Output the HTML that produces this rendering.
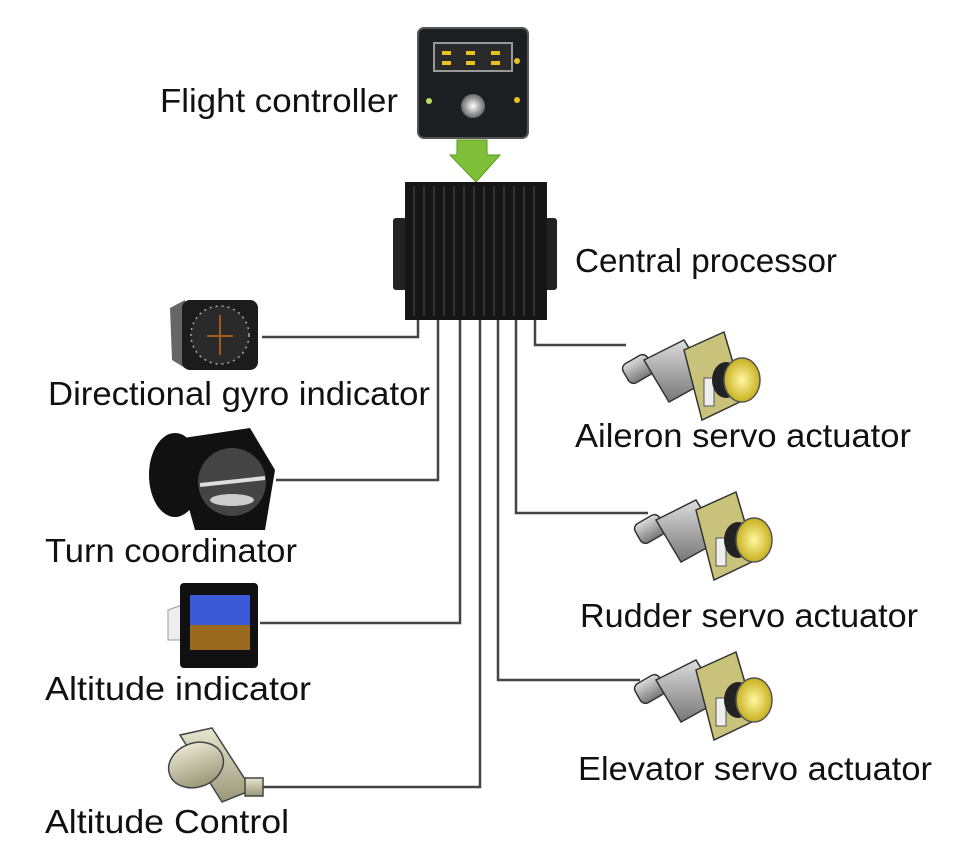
<!DOCTYPE html>
<html><head><meta charset="utf-8"><style>
html,body{margin:0;padding:0;background:#fff;}
svg{display:block;}
text{font-family:"Liberation Sans",sans-serif;font-size:33px;fill:#111;}
</style></head><body>
<svg width="964" height="850" viewBox="0 0 964 850">
<defs>
<linearGradient id="gray" x1="0" y1="0" x2="0" y2="1"><stop offset="0" stop-color="#ddd"/><stop offset="1" stop-color="#777"/></linearGradient>
<linearGradient id="beige" x1="0" y1="0" x2="0" y2="1"><stop offset="0" stop-color="#e8e6d0"/><stop offset="1" stop-color="#9a9678"/></linearGradient>
<radialGradient id="knob"><stop offset="0" stop-color="#fff"/><stop offset="1" stop-color="#666"/></radialGradient>
<radialGradient id="yel"><stop offset="0" stop-color="#fff8a0"/><stop offset="1" stop-color="#c8b020"/></radialGradient>
<g id="servo">
<rect x="0" y="18" width="28" height="22" rx="6" fill="url(#gray)" stroke="#333" stroke-width="1.5" transform="rotate(-30 14 29)"/>
<path d="M20 20 L60 0 L85 40 L45 62 Z" fill="url(#gray)" stroke="#333" stroke-width="1.5"/>
<path d="M60 10 L100 -8 L120 60 L78 80 Z" fill="#c9c27a" stroke="#333" stroke-width="1.5"/>
<rect x="80" y="38" width="10" height="28" fill="#eee" stroke="#555"/>
<ellipse cx="102" cy="40" rx="14" ry="18" fill="#222"/>
<ellipse cx="118" cy="40" rx="18" ry="22" fill="url(#yel)" stroke="#555" stroke-width="1.5"/>
</g>
</defs>

<g stroke="#444" stroke-width="2.5" fill="none">
<polyline points="418,318 418,337 262,337"/>
<polyline points="438,318 438,480 276,480"/>
<polyline points="460,318 460,623 260,623"/>
<polyline points="480,318 480,787 262,787"/>
<polyline points="498,318 498,680 640,680"/>
<polyline points="516,318 516,513 648,513"/>
<polyline points="535,318 535,345 626,345"/>
</g>

<g>
<rect x="418" y="28" width="110" height="110" rx="6" fill="#1b1f22" stroke="#555" stroke-width="2"/>
<rect x="434" y="43" width="78" height="28" fill="#2a2a2a" stroke="#999" stroke-width="2"/>
<g fill="#e8c020"><rect x="442" y="51" width="9" height="4"/><rect x="466" y="51" width="9" height="4"/><rect x="491" y="51" width="9" height="4"/><rect x="442" y="61" width="9" height="4"/><rect x="466" y="61" width="9" height="4"/><rect x="491" y="61" width="9" height="4"/></g>
<circle cx="473" cy="106" r="12" fill="url(#knob)"/>
<circle cx="517" cy="61" r="3" fill="#e8c020"/><circle cx="517" cy="100" r="3" fill="#e8c020"/><circle cx="429" cy="101" r="3" fill="#b8e060"/>
</g>
<polygon points="457,140 487,140 487,155 500,155 476,182 450,155 457,155" fill="#7fbf3a" stroke="#5a9a20"/>

<g>
<rect x="393" y="218" width="14" height="72" rx="3" fill="#222"/>
<rect x="543" y="218" width="14" height="72" rx="3" fill="#222"/>
<rect x="405" y="182" width="142" height="138" fill="#161616"/>
<g stroke="#333" stroke-width="2">
<line x1="414" y1="186" x2="414" y2="316"/><line x1="424" y1="186" x2="424" y2="316"/><line x1="434" y1="186" x2="434" y2="316"/><line x1="444" y1="186" x2="444" y2="316"/><line x1="454" y1="186" x2="454" y2="316"/><line x1="464" y1="186" x2="464" y2="316"/><line x1="474" y1="186" x2="474" y2="316"/><line x1="484" y1="186" x2="484" y2="316"/><line x1="494" y1="186" x2="494" y2="316"/><line x1="504" y1="186" x2="504" y2="316"/><line x1="514" y1="186" x2="514" y2="316"/><line x1="524" y1="186" x2="524" y2="316"/><line x1="534" y1="186" x2="534" y2="316"/>
</g>
</g>

<g>
<path d="M170 308 L185 300 L185 368 L172 360 Z" fill="#666"/>
<rect x="182" y="300" width="76" height="70" rx="8" fill="#1c1c1c"/>
<circle cx="220" cy="335" r="29" fill="#2a2a2a" stroke="#aaa" stroke-width="1.5" stroke-dasharray="2 4"/>
<path d="M220 315 L220 355 M207 336 L233 336" stroke="#a05a20" stroke-width="2"/>
</g>
<g>
<ellipse cx="175" cy="475" rx="26" ry="42" fill="#111"/>
<path d="M170 440 L250 428 L275 470 L265 530 L195 530 Z" fill="#111"/>
<circle cx="232" cy="482" r="34" fill="#444"/>
<path d="M200 485 L265 478" stroke="#ddd" stroke-width="4"/>
<ellipse cx="232" cy="500" rx="22" ry="6" fill="#ccc"/>
</g>
<g>
<path d="M168 610 L182 605 L182 640 L168 640 Z" fill="#eee" stroke="#999"/>
<rect x="180" y="583" width="78" height="85" rx="4" fill="#111"/>
<rect x="190" y="595" width="60" height="30" fill="#3a5ad8"/>
<rect x="190" y="625" width="60" height="25" fill="#9a6a20"/>
</g>
<g>
<path d="M180 735 L212 728 L252 790 L222 802 Z" fill="url(#beige)" stroke="#444" stroke-width="1.5"/>
<ellipse cx="196" cy="765" rx="28" ry="22" fill="url(#beige)" stroke="#444" stroke-width="1.5" transform="rotate(-20 196 765)"/>
<rect x="245" y="778" width="18" height="18" fill="url(#beige)" stroke="#444" stroke-width="1.5"/>
</g>

<use href="#servo" x="624" y="340"/>
<use href="#servo" x="636" y="500"/>
<use href="#servo" x="636" y="660"/>

<text x="160" y="112" textLength="238" lengthAdjust="spacingAndGlyphs">Flight controller</text>
<text x="575" y="272" textLength="262" lengthAdjust="spacingAndGlyphs">Central processor</text>
<text x="48" y="405" textLength="382" lengthAdjust="spacingAndGlyphs">Directional gyro indicator</text>
<text x="575" y="447" textLength="336" lengthAdjust="spacingAndGlyphs">Aileron servo actuator</text>
<text x="45" y="562" textLength="252" lengthAdjust="spacingAndGlyphs">Turn coordinator</text>
<text x="580" y="627" textLength="338" lengthAdjust="spacingAndGlyphs">Rudder servo actuator</text>
<text x="45" y="700" textLength="266" lengthAdjust="spacingAndGlyphs">Altitude indicator</text>
<text x="578" y="780" textLength="354" lengthAdjust="spacingAndGlyphs">Elevator servo actuator</text>
<text x="45" y="833" textLength="244" lengthAdjust="spacingAndGlyphs">Altitude Control</text>
</svg>
</body></html>
